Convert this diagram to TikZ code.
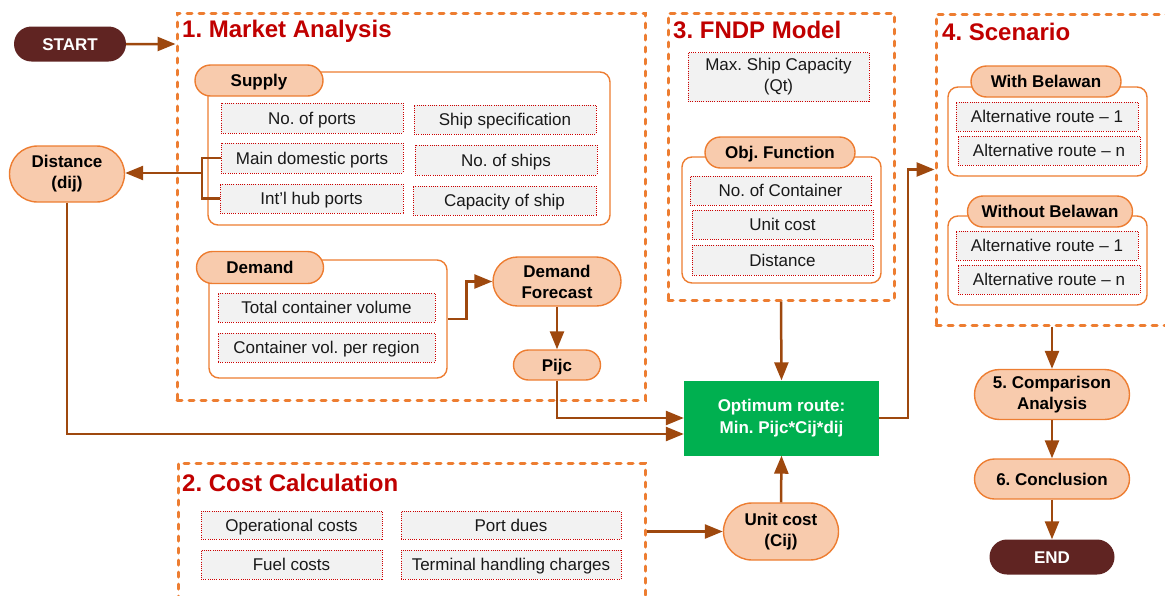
\documentclass[tikz,border=0pt]{standalone}
\usepackage{fontspec}
\setmainfont{Liberation Sans}
\usetikzlibrary{shapes.misc,arrows.meta,calc}
\definecolor{orn}{RGB}{237,125,49}
\definecolor{peach}{RGB}{248,203,173}
\definecolor{brn}{RGB}{158,72,14}
\definecolor{dkred}{RGB}{96,36,34}
\definecolor{ttl}{RGB}{192,0,0}
\definecolor{grn}{RGB}{0,176,80}
\definecolor{itmfill}{RGB}{242,242,242}
\definecolor{itmline}{RGB}{204,0,0}
\frenchspacing
\begin{document}
\begin{tikzpicture}[x=1pt,y=-1pt,
 sz/.style 2 args={minimum width=#1pt,minimum height=#2pt},
 oneline/.style={text height=12pt,text depth=0pt},
 dashbox/.style={draw=orn,line width=3pt,dash pattern=on 5pt off 7pt,line cap=round,inner sep=0},
 grp/.style={draw=orn,line width=1.4pt,rounded corners=10pt,fill=white,inner sep=0},
 itemb/.style={draw=itmline,line width=0.9pt,dash pattern=on 1pt off 1.2pt,fill=itmfill,inner sep=0,font=\fontsize{17}{21}\selectfont,text=black!90,align=center},
 item/.style={itemb,oneline},
 pillb/.style={rounded rectangle,draw=orn,line width=1.4pt,fill=peach,inner sep=0,font=\bfseries\fontsize{17}{21}\selectfont,align=center},
 pill/.style={pillb,oneline},
 term/.style={rounded rectangle,fill=dkred,draw=none,inner sep=0,text=white,font=\bfseries\fontsize{17}{20}\selectfont,oneline},
 ttlnode/.style={anchor=base west,inner sep=0,text=ttl,font=\bfseries\fontsize{24}{28}\selectfont},
 conn/.style={draw=brn,line width=2.5pt},
 arr/.style={conn,-{Triangle[length=18pt,width=14pt]}},
]
\frenchspacing
\useasboundingbox (0,0) rectangle (1165,595);
\clip (0,0) rectangle (1165,595);

% dashed section boxes
\node[dashbox,sz={468}{387}] (mkt) at (411,206.5) {};
\node[dashbox,sz={467}{157}] (cost) at (411.5,541.5) {};
\node[dashbox,sz={226}{287}] (fndp) at (781,156.5) {};
\node[dashbox,sz={244}{311}] (scen) at (1058,169.5) {};

\node[ttlnode] (t1) at (182,37) {1. Market Analysis};
\node[ttlnode] (t2) at (182,491) {2. Cost Calculation};
\node[ttlnode] (t3) at (673,38) {3. FNDP Model};
\node[ttlnode] (t4) at (942,40) {4. Scenario};

% groups
\node[grp,sz={402}{153}] (sup) at (409,148.5) {};
\node[grp,sz={238}{118}] (dem) at (328,319) {};
\node[grp,sz={199}{126}] (obj) at (781.5,220) {};
\node[grp,sz={199}{89}] (wb) at (1047.5,131.5) {};
\node[grp,sz={199}{89}] (wob) at (1047.5,260.5) {};

% group headers
\node[pill,sz={128}{31}] (supH) at (259,80.5) {Supply};
\node[pill,sz={127}{32}] (demH) at (260,267.5) {Demand};
\node[pill,sz={150}{31}] (objH) at (780,152.5) {Obj. Function};
\node[pill,sz={150}{31}] (wbH) at (1046,81.5) {With Belawan};
\node[pill,sz={165}{31}] (wobH) at (1050,211.5) {Without Belawan};

% items
\node[item,sz={182}{30}] (np) at (312,118) {No. of ports};
\node[item,sz={182}{30}] (mdp) at (312,158) {Main domestic ports};
\node[item,sz={183}{29}] (ihp) at (311.5,198.5) {Int’l hub ports};
\node[item,sz={182}{29}] (ss) at (505,119.5) {Ship specification};
\node[item,sz={182}{30}] (ns) at (506,160) {No. of ships};
\node[item,sz={183}{29}] (cs) at (504.5,200.5) {Capacity of ship};

\node[item,sz={217}{29}] (tcv) at (326.5,307.5) {Total container volume};
\node[item,sz={217}{29}] (cvr) at (326.5,347.5) {Container vol. per region};

\node[itemb,sz={181}{49}] (msc) at (778.5,77) {Max. Ship Capacity\\(Qt)};
\node[item,sz={181}{29}] (noc) at (780.5,190.5) {No. of Container};
\node[item,sz={181}{29}] (ucst) at (782.5,224.5) {Unit cost};
\node[item,sz={181}{30}] (dst) at (782.5,260) {Distance};

\node[item,sz={182}{29}] (a1) at (1047,116.5) {Alternative route – 1};
\node[item,sz={182}{29}] (an) at (1049,150.5) {Alternative route – n};
\node[item,sz={182}{29}] (b1) at (1047,245.5) {Alternative route – 1};
\node[item,sz={182}{29}] (bn) at (1049,279.5) {Alternative route – n};

\node[item,sz={181}{28}] (oc) at (291.5,525) {Operational costs};
\node[item,sz={220}{28}] (pd) at (511,525) {Port dues};
\node[item,sz={181}{29}] (fc) at (291.5,564.5) {Fuel costs};
\node[item,sz={220}{29}] (thc) at (511,564.5) {Terminal handling charges};

% flow nodes
\node[term,sz={112}{35}] (start) at (70,44) {START};
\node[term,sz={125}{35}] (end) at (1052,557) {END};
\node[pillb,sz={115}{56}] (dist) at (67,174) {Distance\\(dij)};
\node[pillb,sz={128}{49}] (df) at (557,281.5) {Demand\\Forecast};
\node[pill,sz={87}{30}] (pijc) at (557,365) {Pijc};
\node[pillb,sz={115}{57}] (uc) at (781,531.5) {Unit cost\\(Cij)};
\node[pillb,sz={155}{50}] (cmp) at (1052,394.5) {5. Comparison\\Analysis};
\node[pill,sz={155}{40}] (concl) at (1052,479) {6. Conclusion};
\node[fill=grn,inner sep=0,sz={195}{75},text=white,align=center,font=\bfseries\fontsize{17}{22}\selectfont] (opt) at (781.5,418) {Optimum route:\\Min. Pijc*Cij*dij};

% connectors
\coordinate (br) at (202,173);
\draw[arr] (start) -- (start -| mkt.west);
\draw[conn] (mdp.west) -- (br |- mdp.west) -- (br |- ihp.west) -- (ihp.west);
\draw[arr] (br) -- (br -| dist.east);
\draw[arr] (dist.south) |- ([yshift=-16pt]opt.west);
\draw[arr] (dem.east) -- ++(19,0) |- (df.west);
\draw[arr] (df.south) -- (pijc.north);
\draw[arr] (pijc.south) |- (opt.west);
\draw[arr] (fndp.south) -- (opt.north);
\draw[arr] (uc.north) -- (opt.south);
\draw[arr] (uc.west -| cost.east) -- (uc.west);
\draw[arr] (opt.east) -- ++(29,0) |- (scen.west);
\draw[arr] (cmp.north |- scen.south) -- (cmp.north);
\draw[arr] (cmp.south) -- (concl.north);
\draw[arr] (concl.south) -- (end.north);
\end{tikzpicture}
\end{document}
